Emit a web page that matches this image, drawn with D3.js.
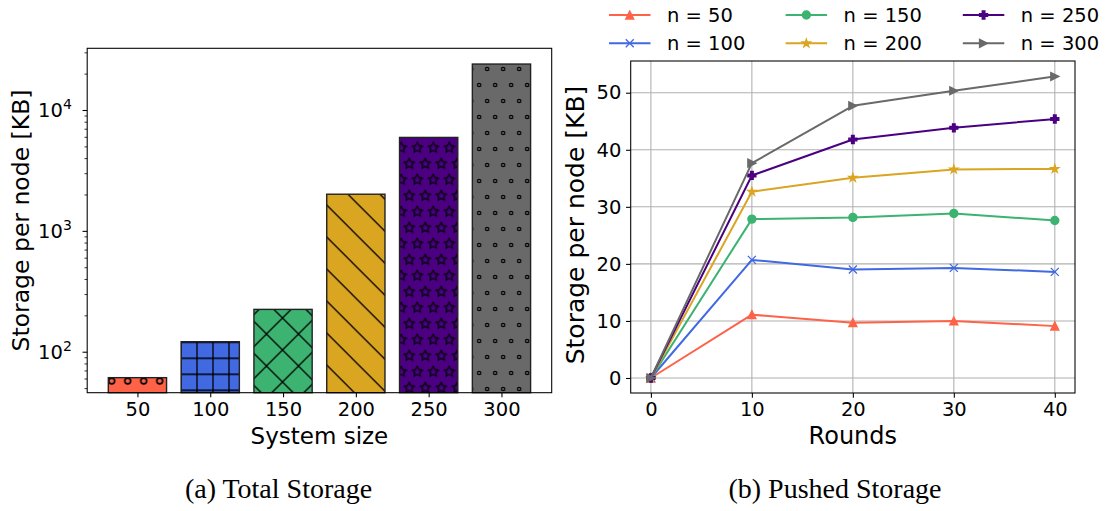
<!DOCTYPE html>
<html>
<head>
<meta charset="utf-8">
<script src="https://cdn.jsdelivr.net/npm/d3@7"></script>
<style>
  body { margin: 0; background: #fff; }
  svg { display: block; }
  text { font-family: "DejaVu Sans", sans-serif; fill: #000; }
</style>
</head>
<body>
<svg id="fig" width="1107" height="511"></svg>
<script>
// ---- (a) total storage per node, by system size (log scale) ----
const sizes = [50, 100, 150, 200, 250, 300];
const totalStorage = [61, 121, 224, 2010, 5930, 24000];
const barColors = ["#FF6347", "#4169E1", "#3CB371", "#DAA520", "#4B0082", "#696969"];
const barHatches = ["o", "+", "x", "\\", "*", "."];
const logMajorTicks = [100, 1000, 10000];
const logMajorExponents = ["2", "3", "4"];

// ---- (b) pushed storage per node over rounds ----
const rounds = [0, 10, 20, 30, 40];
const n50 = [0, 11.1, 9.7, 10.0, 9.1];
const n100 = [0, 20.7, 19.0, 19.3, 18.6];
const n150 = [0, 27.85, 28.15, 28.85, 27.6];
const n200 = [0, 32.65, 35.1, 36.55, 36.65];
const n250 = [0, 35.5, 41.8, 43.85, 45.4];
const n300 = [0, 37.65, 47.7, 50.35, 52.85];
const seriesLabels = ["n = 50", "n = 100", "n = 150", "n = 200", "n = 250", "n = 300"];
const seriesMarkers = ["^", "x", "o", "*", "P", ">"];
const roundTicks = [0, 10, 20, 30, 40];
const storageTicks = [0, 10, 20, 30, 40, 50];

const svg = d3.select("#fig");
const defs = svg.append("defs");

const TICK = 4.67, PAD = 4.67, SPINE = 1.07;
const tickFont = 19.5;

// ---------- hatch patterns ----------
const HS = 16; // hatch step
function starPath(R, r) {
  const pts = [];
  for (let i = 0; i < 10; i++) {
    const a = -Math.PI / 2 + i * Math.PI / 5;
    const rr = i % 2 === 0 ? R : r;
    pts.push([rr * Math.cos(a), rr * Math.sin(a)]);
  }
  return "M" + pts.map(p => p[0].toFixed(2) + "," + p[1].toFixed(2)).join("L") + "Z";
}
const staggered = [[0, 0], [HS, 0], [0, 2 * HS], [HS, 2 * HS], [HS / 2, HS]];
const hatchDefs = {
  "o": { w: HS, h: 2 * HS, x: 15.7, y: 29, draw: p => staggered.forEach(([cx, cy]) =>
          p.append("circle").attr("cx", cx).attr("cy", cy).attr("r", 2.9)
            .attr("fill", "none").attr("stroke", "#000").attr("stroke-width", 1.6)) },
  "+": { w: HS, h: HS, x: 13, y: 14.3, draw: p =>
          p.append("path").attr("d", `M${HS/2},-1V${HS+1}M-1,${HS/2}H${HS+1}`)
            .attr("stroke", "#000").attr("stroke-width", 1.3) },
  "x": { w: 2 * HS, h: 2 * HS, x: 10.5, y: 14, draw: p => {
          const L = 2 * HS;
          p.append("path").attr("d",
            `M${-L},${-L}L${2*L},${2*L}M${-L},0L${L},${2*L}M0,${-L}L${2*L},${L}` +
            `M${-L},${2*L}L${2*L},${-L}M${-L},${L}L${L},${-L}M0,${2*L}L${2*L},0`)
            .attr("stroke", "#000").attr("stroke-width", 1.3); } },
  "\\": { w: 2 * HS, h: 2 * HS, x: 0, y: 6.3, draw: p => {
          const L = 2 * HS;
          p.append("path").attr("d", `M${-L},${-L}L${2*L},${2*L}M${-L},0L${L},${2*L}M0,${-L}L${2*L},${L}`)
            .attr("stroke", "#000").attr("stroke-width", 1.3); } },
  "*": { w: HS, h: 2 * HS, x: 1.3, y: 19.7, draw: p => staggered.forEach(([cx, cy]) =>
          p.append("path").attr("d", starPath(HS / 3, HS / 6))
            .attr("transform", `translate(${cx},${cy})`)
            .attr("fill", "none").attr("stroke", "#000").attr("stroke-width", 1.2)) },
  ".": { w: HS, h: 2 * HS, x: 15.2, y: 21, draw: p => staggered.forEach(([cx, cy]) =>
          p.append("circle").attr("cx", cx).attr("cy", cy).attr("r", 1.7)
            .attr("fill", "none").attr("stroke", "#000").attr("stroke-width", 1.2)) }
};
barHatches.forEach((h, i) => {
  const d = hatchDefs[h];
  const p = defs.append("pattern").attr("id", "hatch" + i)
    .attr("patternUnits", "userSpaceOnUse")
    .attr("width", d.w).attr("height", d.h).attr("x", d.x).attr("y", d.y);
  d.draw(p);
});

// ---------- panel (a) ----------
const A = { left: 87.2, right: 551.7, top: 48.3, bottom: 392.7 };
const xA = d3.scaleLinear().domain([-0.69, sizes.length - 1 + 0.69]).range([A.left, A.right]);
const yA = d3.scaleLog().domain([45.8, 32400]).range([A.bottom, A.top]);
const barW = xA(0.8) - xA(0);

const gA = svg.append("g");
const bars = gA.selectAll("g.bar").data(sizes).join("g").attr("class", "bar");
bars.append("rect")
  .attr("x", (d, i) => xA(i) - barW / 2).attr("width", barW)
  .attr("y", (d, i) => yA(totalStorage[i])).attr("height", (d, i) => A.bottom - yA(totalStorage[i]))
  .attr("fill", (d, i) => barColors[i]);
bars.append("rect")
  .attr("x", (d, i) => xA(i) - barW / 2).attr("width", barW)
  .attr("y", (d, i) => yA(totalStorage[i])).attr("height", (d, i) => A.bottom - yA(totalStorage[i]))
  .attr("fill", (d, i) => `url(#hatch${i})`)
  .attr("stroke", "#222").attr("stroke-width", 1.4);

gA.append("rect").attr("x", A.left).attr("y", A.top)
  .attr("width", A.right - A.left).attr("height", A.bottom - A.top)
  .attr("fill", "none").attr("stroke", "#000").attr("stroke-width", SPINE);

// x axis
const axA = gA.append("g").attr("transform", `translate(0,${A.bottom})`)
  .call(d3.axisBottom(xA).tickValues(d3.range(sizes.length)).tickFormat(i => sizes[i])
    .tickSize(TICK).tickPadding(PAD).tickSizeOuter(0));
axA.select(".domain").remove();
axA.selectAll("line").attr("stroke", "#000").attr("stroke-width", SPINE);
axA.selectAll("text").style("font-size", tickFont + "px").style("font-family", "DejaVu Sans");

// y axis: major + minor log ticks
const minorTicks = [];
[10, 100, 1000, 10000].forEach(dec => {
  for (let k = 2; k <= 9; k++) {
    const v = k * dec;
    if (v >= yA.domain()[0] && v <= yA.domain()[1]) minorTicks.push(v);
  }
});
const ayMinor = gA.append("g").attr("transform", `translate(${A.left},0)`)
  .call(d3.axisLeft(yA).tickValues(minorTicks).tickFormat("").tickSize(2.67).tickSizeOuter(0));
ayMinor.select(".domain").remove();
ayMinor.selectAll("line").attr("stroke", "#000").attr("stroke-width", 0.8);
const ayMajor = gA.append("g").attr("transform", `translate(${A.left},0)`)
  .call(d3.axisLeft(yA).tickValues(logMajorTicks).tickFormat("").tickSize(TICK).tickSizeOuter(0));
ayMajor.select(".domain").remove();
ayMajor.selectAll("line").attr("stroke", "#000").attr("stroke-width", SPINE);
logMajorTicks.forEach((v, i) => {
  const t = gA.append("text").attr("x", A.left - TICK - PAD - 6).attr("y", yA(v))
    .attr("dy", "0.36em").attr("text-anchor", "end").style("font-size", tickFont + "px");
  t.append("tspan").text("10");
  t.append("tspan").text(logMajorExponents[i]).attr("dy", "-0.55em").style("font-size", "14px");
});

gA.append("text").attr("x", (A.left + A.right) / 2).attr("y", 444)
  .attr("text-anchor", "middle").style("font-size", "23px").text("System size");
gA.append("text").attr("transform", `translate(29,${(A.top + A.bottom) / 2 + 0}) rotate(-90)`)
  .attr("text-anchor", "middle").style("font-size", "23.5px").text("Storage per node [KB]");

// ---------- panel (b) ----------
const B = { left: 630.7, right: 1075, top: 61, bottom: 393 };
const xB = d3.scaleLinear().domain([-2, 42]).range([B.left, B.right]);
const yB = d3.scaleLinear().domain([-2.63, 55.56]).range([B.bottom, B.top]);
const gB = svg.append("g");

// grid
gB.append("g").selectAll("line").data(roundTicks).join("line")
  .attr("x1", d => xB(d)).attr("x2", d => xB(d)).attr("y1", B.top).attr("y2", B.bottom)
  .attr("stroke", "#b0b0b0").attr("stroke-width", 1.07);
gB.append("g").selectAll("line").data(storageTicks).join("line")
  .attr("y1", d => yB(d)).attr("y2", d => yB(d)).attr("x1", B.left).attr("x2", B.right)
  .attr("stroke", "#b0b0b0").attr("stroke-width", 1.07);

const axBx = gB.append("g").attr("transform", `translate(0,${B.bottom})`)
  .call(d3.axisBottom(xB).tickValues(roundTicks).tickSize(TICK).tickPadding(PAD).tickSizeOuter(0));
axBx.select(".domain").remove();
axBx.selectAll("line").attr("stroke", "#000").attr("stroke-width", SPINE);
axBx.selectAll("text").style("font-size", tickFont + "px").style("font-family", "DejaVu Sans");
const axBy = gB.append("g").attr("transform", `translate(${B.left},0)`)
  .call(d3.axisLeft(yB).tickValues(storageTicks).tickSize(TICK).tickPadding(PAD).tickSizeOuter(0));
axBy.select(".domain").remove();
axBy.selectAll("line").attr("stroke", "#000").attr("stroke-width", SPINE);
axBy.selectAll("text").style("font-size", tickFont + "px").style("font-family", "DejaVu Sans");

// marker shapes (8 px markers)
function markerPath(m) {
  const s = 4;
  switch (m) {
    case "^": return `M0,${-s}L${s},${s}L${-s},${s}Z`;
    case ">": return `M${s},0L${-s},${-s}L${-s},${s}Z`;
    case "x": return `M${-s},${-s}L${s},${s}M${-s},${s}L${s},${-s}`;
    case "o": return d3.arc()({ innerRadius: 0, outerRadius: s, startAngle: 0, endAngle: 2 * Math.PI });
    case "*": return starPath(s * 1.05, s * 1.05 * 0.382);
    case "P": {
      const a = s / 3;
      return `M${-a},${-s}H${a}V${-a}H${s}V${a}H${a}V${s}H${-a}V${a}H${-s}V${-a}H${-a}Z`;
    }
  }
}
function drawMarker(g, m, color, x, y) {
  const p = g.append("path").attr("d", markerPath(m)).attr("transform", `translate(${x},${y})`)
    .attr("stroke", color).attr("stroke-width", 1.33).attr("stroke-linejoin", "miter");
  p.attr("fill", m === "x" ? "none" : color);
}

const seriesData = [n50, n100, n150, n200, n250, n300];
const clipId = "clipB";
defs.append("clipPath").attr("id", clipId).append("rect")
  .attr("x", B.left).attr("y", B.top).attr("width", B.right - B.left).attr("height", B.bottom - B.top);
const lineGen = d3.line().x((d, i) => xB(rounds[i])).y(d => yB(d));
const plot = gB.append("g").attr("clip-path", `url(#${clipId})`);
seriesData.forEach((vals, si) => {
  const g = plot.append("g");
  g.append("path").datum(vals).attr("d", lineGen)
    .attr("fill", "none").attr("stroke", barColors[si]).attr("stroke-width", 2)
    .attr("stroke-linejoin", "round").attr("stroke-linecap", "square");
  vals.forEach((v, i) => drawMarker(g, seriesMarkers[si], barColors[si], xB(rounds[i]), yB(v)));
});

gB.append("rect").attr("x", B.left).attr("y", B.top)
  .attr("width", B.right - B.left).attr("height", B.bottom - B.top)
  .attr("fill", "none").attr("stroke", "#000").attr("stroke-width", SPINE);

gB.append("text").attr("x", (B.left + B.right) / 2).attr("y", 444)
  .attr("text-anchor", "middle").style("font-size", "24px").text("Rounds");
gB.append("text").attr("transform", `translate(584,${(85 + 365) / 2}) rotate(-90)`)
  .attr("text-anchor", "middle").style("font-size", "25px").text("Storage per node [KB]");

// legend: 3 columns x 2 rows, filled column by column
const legCols = [609, 785.6, 962.8];
const legRows = [15, 43.3];
const legLine = 41.5, legTextGap = 16.5;
const leg = svg.append("g");
seriesLabels.forEach((lab, i) => {
  const c = Math.floor(i / 2), r = i % 2;
  const x0 = legCols[c], y0 = legRows[r];
  leg.append("line").attr("x1", x0).attr("x2", x0 + legLine).attr("y1", y0).attr("y2", y0)
    .attr("stroke", barColors[i]).attr("stroke-width", 2);
  drawMarker(leg, seriesMarkers[i], barColors[i], x0 + legLine / 2, y0);
  leg.append("text").attr("x", x0 + legLine + legTextGap).attr("y", y0).attr("dy", "0.36em")
    .style("font-size", tickFont + "px").text(lab);
});

// captions
const capFont = "'Liberation Serif', 'DejaVu Serif', serif";
svg.append("text").attr("x", 278.5).attr("y", 498).attr("text-anchor", "middle")
  .style("font-family", capFont).style("font-size", "28px").text("(a) Total Storage");
svg.append("text").attr("x", 835).attr("y", 498).attr("text-anchor", "middle")
  .style("font-family", capFont).style("font-size", "28px").text("(b) Pushed Storage");
</script>
</body>
</html>
